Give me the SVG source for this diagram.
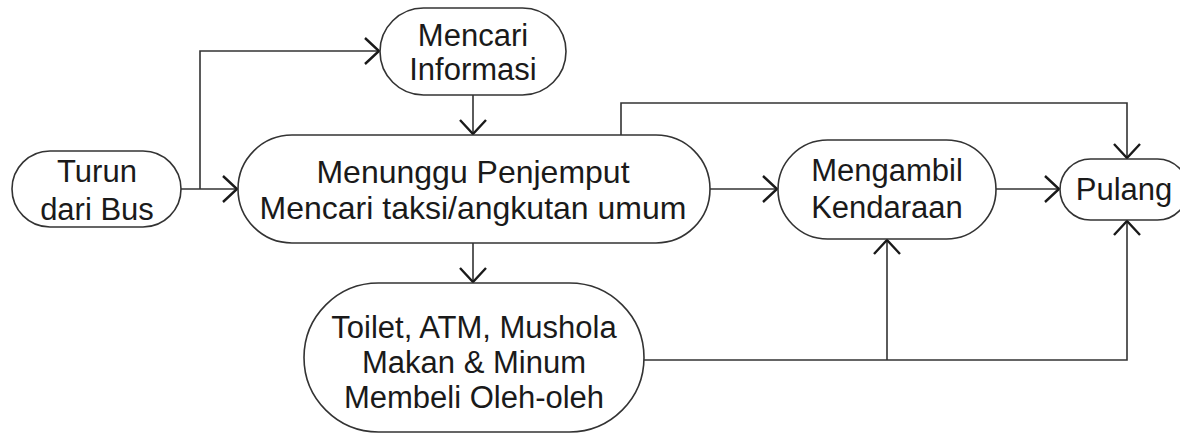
<svg xmlns="http://www.w3.org/2000/svg" width="1180" height="436" viewBox="0 0 1180 436">
<style>
.box{fill:#fff;stroke:#333;stroke-width:1.6}
.t{font-family:"Liberation Sans",Arial,sans-serif;font-size:31px;fill:#1a1a1a;text-anchor:middle}
.tb{font-size:32px}
.c{fill:none;stroke:#333;stroke-width:1.6}
</style>
<defs>
<marker id="arr" markerUnits="userSpaceOnUse" markerWidth="40" markerHeight="40" refX="0" refY="0" viewBox="-20 -20 40 40" orient="auto">
<path d="M-14,-13 L0,0 L-14,13" fill="none" stroke="#1a1a1a" stroke-width="2.4"/>
</marker>
</defs>
<rect width="1180" height="436" fill="#fff"/>
<g id="connectors">
<path class="c" d="M181,189 H237" marker-end="url(#arr)"/>
<path class="c" d="M200,189 V51 H379" marker-end="url(#arr)"/>
<path class="c" d="M473,95 V134" marker-end="url(#arr)"/>
<path class="c" d="M473,243 V282" marker-end="url(#arr)"/>
<path class="c" d="M710,189 H777" marker-end="url(#arr)"/>
<path class="c" d="M996,189 H1059" marker-end="url(#arr)"/>
<path class="c" d="M621,135 V103 H1127 V158" marker-end="url(#arr)"/>
<path class="c" d="M644,360 H1127 V221" marker-end="url(#arr)"/>
<path class="c" d="M887,360 V240" marker-end="url(#arr)"/>
</g>
<g id="turun">
<rect class="box" x="12" y="151" width="169" height="76" rx="38"/>
<text class="t" x="97" y="182">Turun</text>
<text class="t" x="97" y="220">dari Bus</text>
</g>
<g id="mencari">
<rect class="box" x="380" y="8" width="186" height="87" rx="43.5"/>
<text class="t" x="473" y="46">Mencari</text>
<text class="t" x="473" y="80">Informasi</text>
</g>
<g id="menunggu">
<rect class="box" x="238" y="135" width="472" height="108" rx="54"/>
<text class="t tb" x="473" y="183">Menunggu Penjemput</text>
<text class="t tb" x="473" y="219">Mencari taksi/angkutan umum</text>
</g>
<g id="toilet">
<rect class="box" x="304" y="283" width="340" height="149" rx="74.5"/>
<text class="t" x="474" y="338">Toilet, ATM, Mushola</text>
<text class="t" x="474" y="373">Makan &amp; Minum</text>
<text class="t" x="474" y="408">Membeli Oleh-oleh</text>
</g>
<g id="mengambil">
<rect class="box" x="778" y="140" width="218" height="99" rx="49.5"/>
<text class="t" x="887" y="181">Mengambil</text>
<text class="t" x="887" y="218">Kendaraan</text>
</g>
<g id="pulang">
<rect class="box" x="1060" y="159" width="128" height="61" rx="30.5"/>
<text class="t" x="1124" y="200">Pulang</text>
</g>
</svg>
